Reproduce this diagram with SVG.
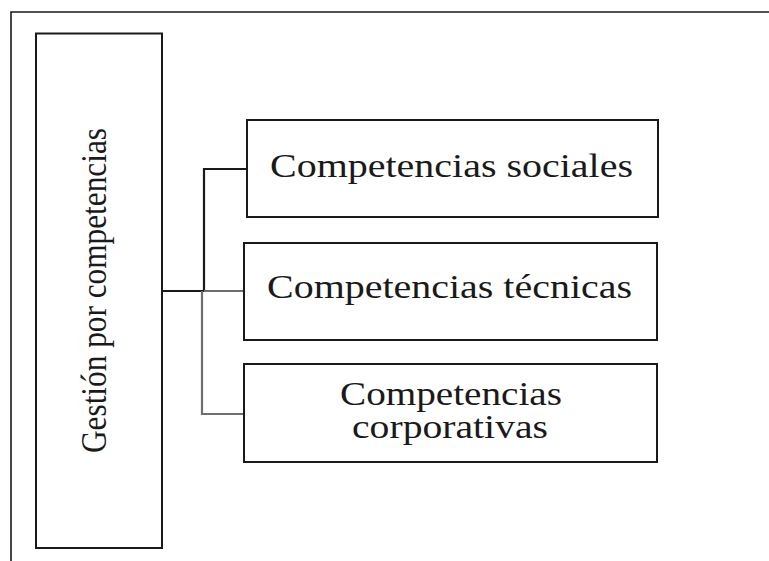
<svg xmlns="http://www.w3.org/2000/svg" width="769" height="561" viewBox="0 0 769 561">
<style>
.box{fill:#fff;stroke:#1a1a1a;stroke-width:2}
.t{font-family:'Liberation Serif',Tinos,'Times New Roman',Times,serif;font-size:33px;fill:#1a1a1a;text-anchor:middle}
.dark{fill:none;stroke:#1a1a1a;stroke-width:2.2}
.gray{fill:none;stroke:#6e6e6e;stroke-width:2.2}
</style>
<rect width="769" height="561" fill="#fff"/>
<path d="M11,561 V12 H769" fill="none" stroke="#1a1a1a" stroke-width="1.6"/>
<g id="connectors">
<path class="dark" d="M162,291 H204 M204,291 V169 H247"/>
<path class="gray" d="M204,291 H244 M202,291 V414 H244"/>
</g>
<g id="gestion">
<rect class="box" x="36" y="33.5" width="126" height="514.5"/>
<text class="t" font-family="Liberation Serif, serif" style="text-anchor:start;font-size:30.6px" transform="translate(106,453) rotate(-90) scale(1,1.2)" textLength="325" lengthAdjust="spacingAndGlyphs">Gestión por competencias</text>
</g>
<g id="sociales">
<rect class="box" x="247" y="120" width="411" height="97"/>
<text class="t" x="451.5" y="177" textLength="363" lengthAdjust="spacingAndGlyphs">Competencias sociales</text>
</g>
<g id="tecnicas">
<rect class="box" x="244" y="243" width="413" height="97"/>
<text class="t" x="449.5" y="298" textLength="365" lengthAdjust="spacingAndGlyphs">Competencias técnicas</text>
</g>
<g id="corporativas">
<rect class="box" x="244" y="364" width="413" height="98"/>
<text class="t" x="451" y="405" textLength="222" lengthAdjust="spacingAndGlyphs">Competencias</text>
<text class="t" x="450" y="438" textLength="196" lengthAdjust="spacingAndGlyphs">corporativas</text>
</g>
</svg>
